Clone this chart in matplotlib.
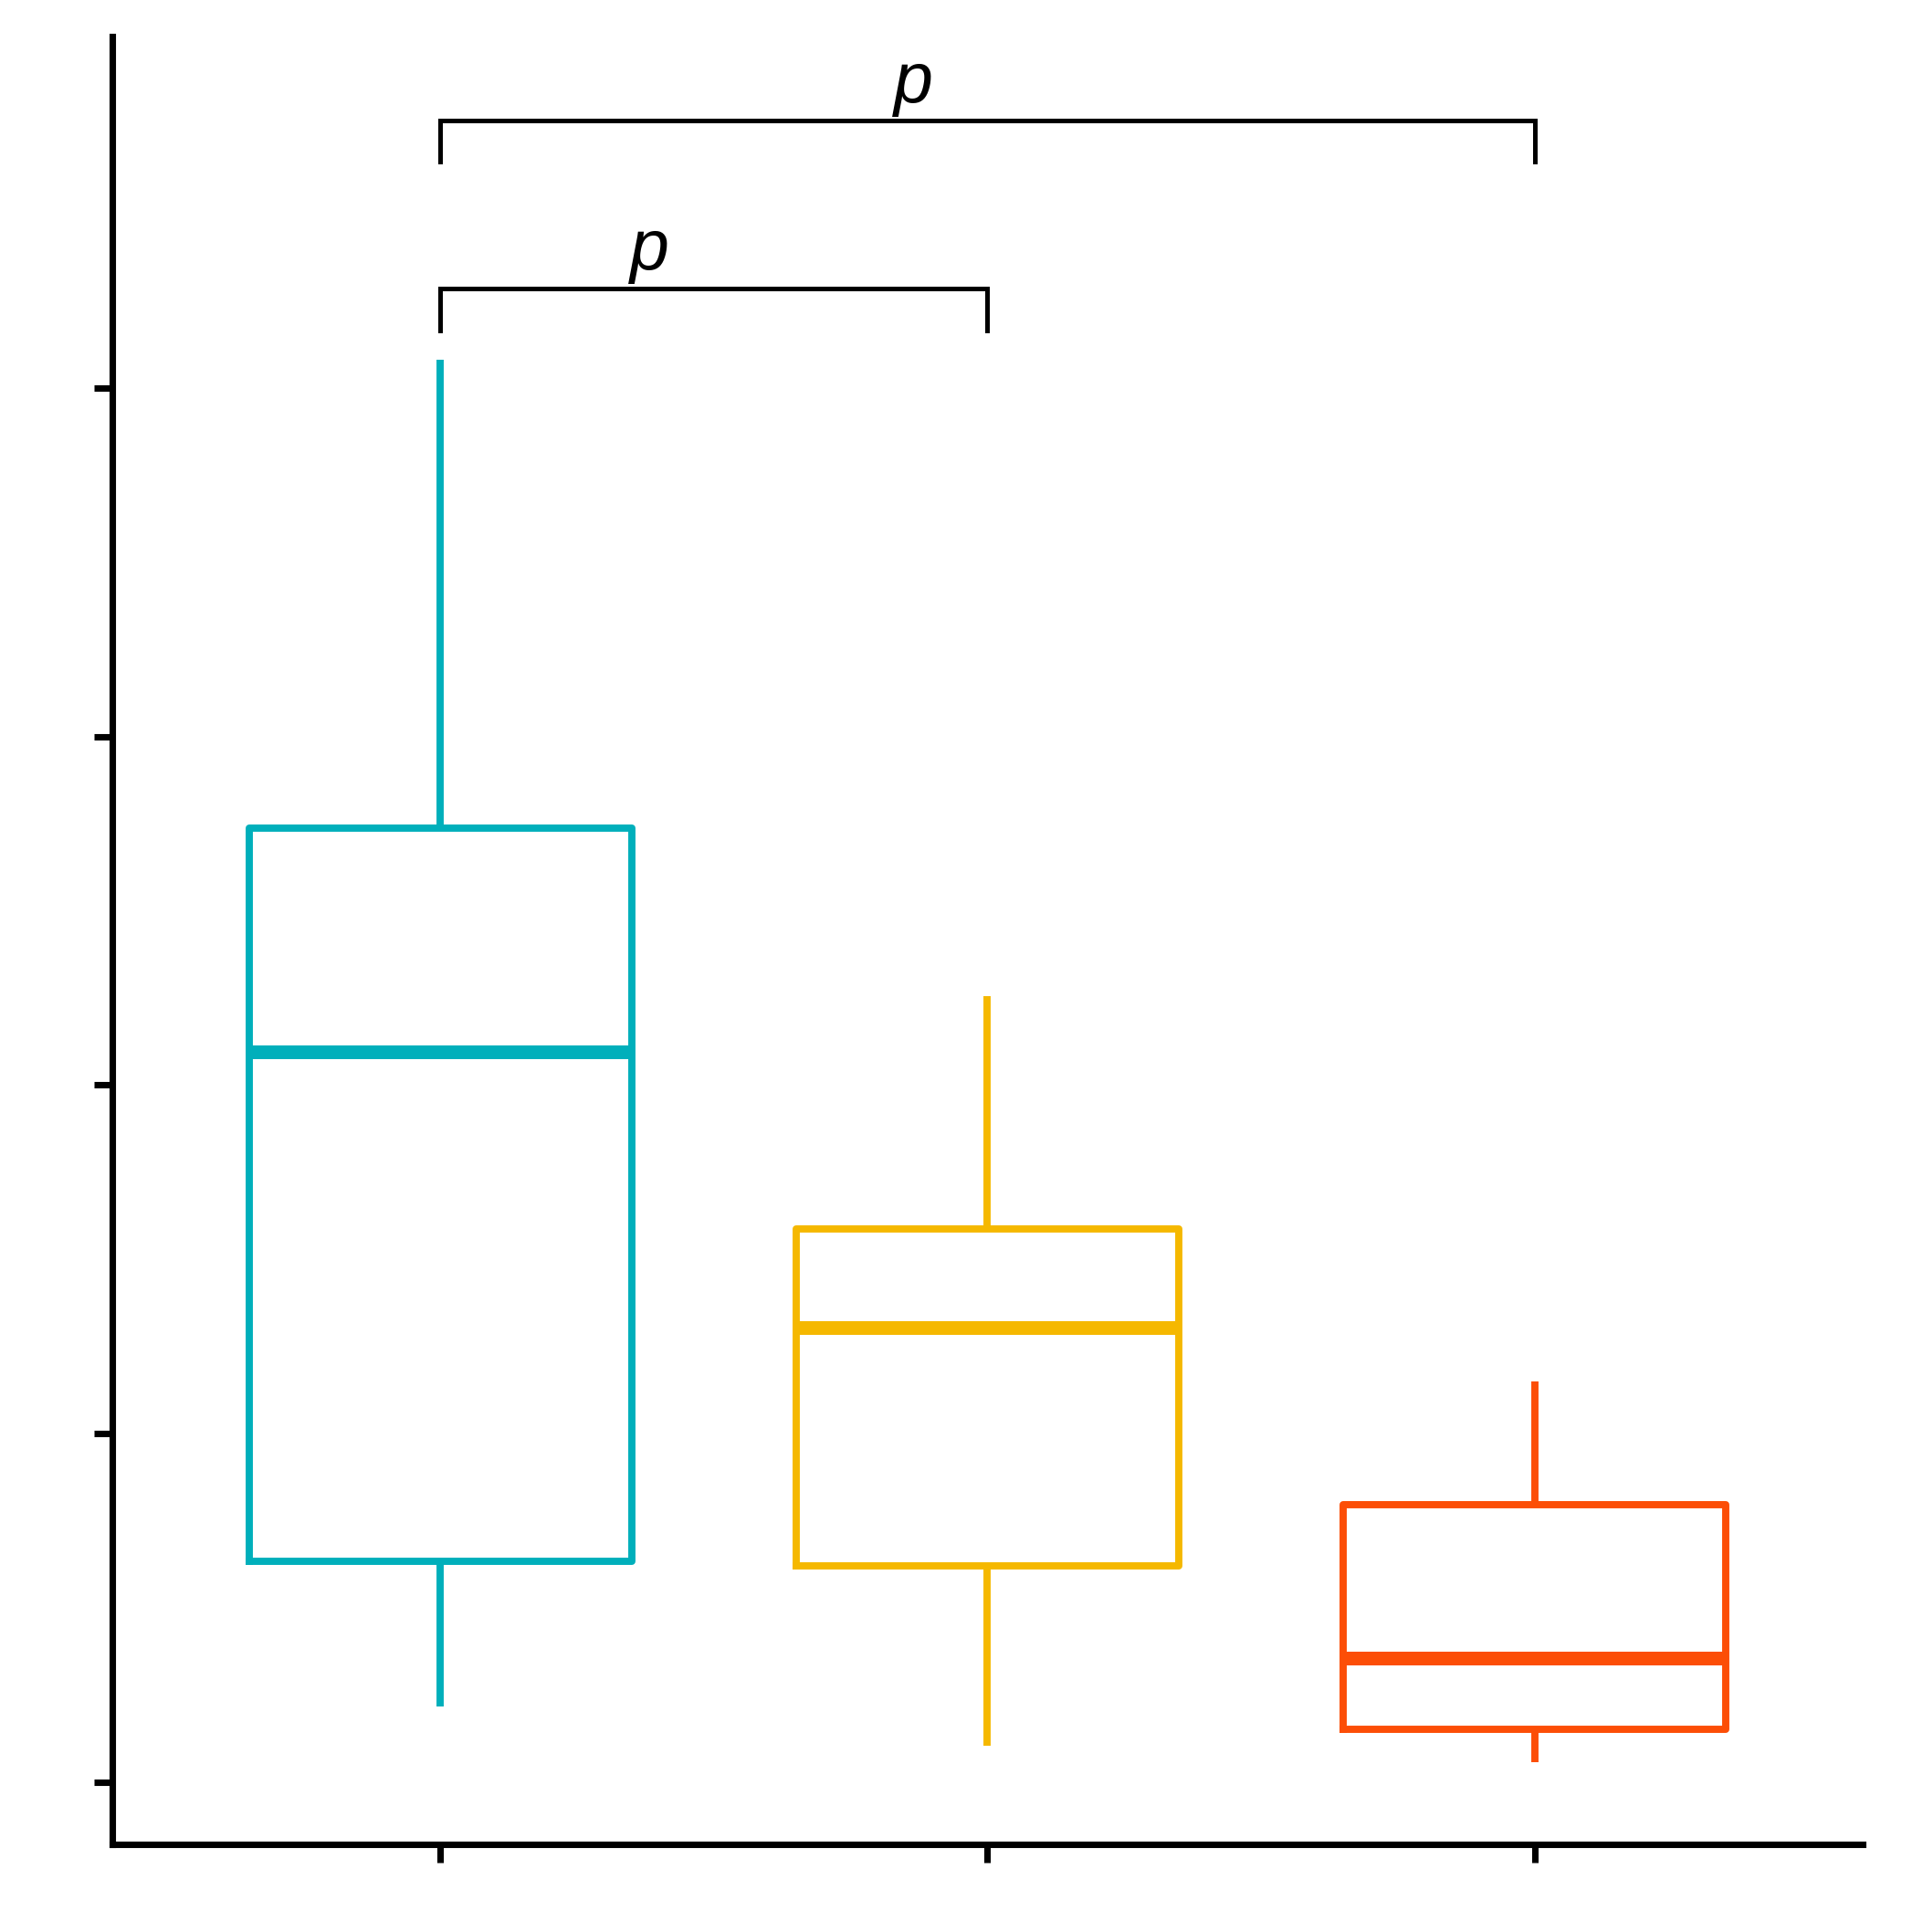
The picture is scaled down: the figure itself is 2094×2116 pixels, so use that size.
import matplotlib
matplotlib.use("Agg")
import matplotlib.pyplot as plt

# valores (eje y sin etiquetas, ticks en 0..4)
groups = ["A", "B", "C"]
colors = ["#00AFBB", "#F5B800", "#FC4E07"]
whislo = [0.216, 0.103, 0.057]
q1 = [0.633, 0.619, 0.152]
med = [2.094, 1.305, 0.354]
q3 = [2.737, 1.588, 0.796]
whishi = [4.081, 2.256, 1.149]

y_ticks = [0, 1, 2, 3, 4]

# comparaciones: (grupo1, grupo2, altura barra, altura patas, x del texto)
comparisons = [(1, 2, 4.286, 4.166, 1.383), (1, 3, 4.767, 4.651, 1.865)]
labels = ["p", "p"]

fig = plt.figure(figsize=(2094 / 300, 2116 / 300), dpi=300)
ax = fig.add_axes([122.8 / 2094, 1 - 2020.2 / 2116, (2040 - 122.8) / 2094, (2020.2 - 40.5) / 2116])

stats = []
for g, lo, a, m, b, hi in zip(groups, whislo, q1, med, q3, whishi):
    stats.append(dict(label=g, whislo=lo, q1=a, med=m, q3=b, whishi=hi, fliers=[]))

lw = 1.9
bp = ax.bxp(stats, positions=[1, 2, 3], widths=0.7, showcaps=False, showfliers=False,
            boxprops=dict(linewidth=lw), whiskerprops=dict(linewidth=lw, solid_capstyle="butt"),
            medianprops=dict(linewidth=3.6, solid_capstyle="butt"))

for i, c in enumerate(colors):
    bp["boxes"][i].set_color(c)
    bp["medians"][i].set_color(c)
    bp["whiskers"][2 * i].set_color(c)
    bp["whiskers"][2 * i + 1].set_color(c)

# barras de significancia
for (g1, g2, ytop, yleg, xt), lab in zip(comparisons, labels):
    ax.plot([g1, g1, g2, g2], [yleg, ytop, ytop, yleg], color="black", lw=1.2,
            solid_joinstyle="miter")
    ax.text(xt, ytop + 0.012, lab, ha="center", va="bottom", fontsize=18.5,
            fontstyle="italic", family=["Liberation Sans", "DejaVu Sans"])

ax.set_xlim(0.4, 3.6)
ax.set_ylim(-0.18, 5.008)
ax.set_xticks([1, 2, 3])
ax.set_xticklabels([])
ax.set_yticks(y_ticks)
ax.set_yticklabels([])
ax.tick_params(direction="out", length=4.8, width=1.7, color="black")

for s in ["top", "right"]:
    ax.spines[s].set_visible(False)
for s in ["left", "bottom"]:
    ax.spines[s].set_linewidth(1.7)
    ax.spines[s].set_capstyle("projecting")

fig.savefig("out.png", dpi=300, facecolor="white")
